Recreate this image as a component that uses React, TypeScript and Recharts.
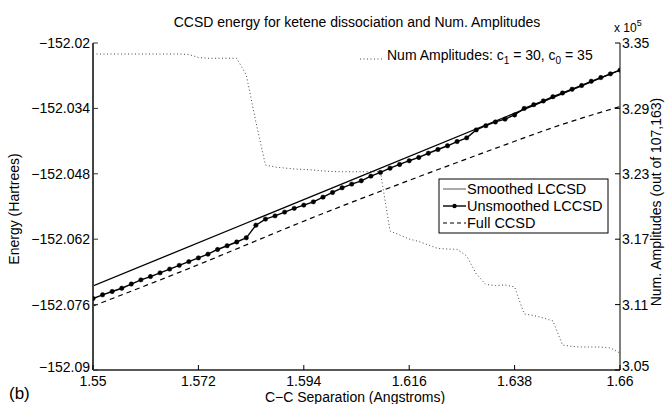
import { ComposedChart, Line, XAxis, YAxis } from 'recharts';

// C-C separation (Angstroms), one sample every 0.002
const separation = [
  1.55, 1.552, 1.554, 1.556, 1.558, 1.56, 1.562, 1.564, 1.566, 1.568,
  1.57, 1.572, 1.574, 1.576, 1.578, 1.58, 1.582, 1.584, 1.586, 1.588,
  1.59, 1.592, 1.594, 1.596, 1.598, 1.6, 1.602, 1.604, 1.606, 1.608,
  1.61, 1.612, 1.614, 1.616, 1.618, 1.62, 1.622, 1.624, 1.626, 1.628,
  1.63, 1.632, 1.634, 1.636, 1.638, 1.64, 1.642, 1.644, 1.646, 1.648,
  1.65, 1.652, 1.654, 1.656, 1.658, 1.66,
];

// Unsmoothed LCCSD energy (Hartrees)
const unsmoothed = [
  -152.0747, -152.0739, -152.0732, -152.0725, -152.0716, -152.0707, -152.07, -152.0692, -152.0684, -152.0676,
  -152.0668, -152.066, -152.0652, -152.0642, -152.0634, -152.0626, -152.0617, -152.059, -152.0577, -152.057,
  -152.0562, -152.0554, -152.0547, -152.054, -152.053, -152.052, -152.051, -152.0502, -152.0495, -152.0485,
  -152.0477, -152.0468, -152.046, -152.0452, -152.0445, -152.0436, -152.0428, -152.042, -152.0411, -152.0403,
  -152.0386, -152.0377, -152.0369, -152.0363, -152.0354, -152.034, -152.0332, -152.0324, -152.0315, -152.0307,
  -152.0299, -152.0291, -152.0282, -152.0274, -152.0266, -152.0258,
];

// number of amplitudes kept (right axis)
const amplitudes = [
  333990, 333990, 333990, 333990, 333990, 333990, 333990, 333990, 333990, 333990,
  333950, 333670, 333600, 333600, 333600, 333600, 332060, 327750, 323810, 323620,
  323530, 323440, 323400, 323350, 323260, 323210, 323190, 323190, 323190, 323190,
  323170, 317750, 317390, 317020, 316790, 316470, 316150, 316100, 316070, 315460,
  313810, 312840, 312750, 312800, 312620, 310140, 310000, 309770, 309500, 307290,
  307160, 307110, 307110, 307110, 307020, 306560,
];

const smoothedSep = [1.55, 1.66];
const smoothed = [-152.072, -152.0258];

const fullSep = [1.55, 1.568, 1.598, 1.616, 1.636, 1.646, 1.66];
const fullCcsd = [-152.0763, -152.0691, -152.0565, -152.0494, -152.0418, -152.0381, -152.0336];

const xTicks = [1.55, 1.572, 1.594, 1.616, 1.638, 1.66];
const energyTicks = [-152.09, -152.076, -152.062, -152.048, -152.034, -152.02];
const ampTicks = [305000, 311000, 317000, 323000, 329000, 335000];

const mainData = separation.map((x, i) => ({ x, e: unsmoothed[i], amp: amplitudes[i] }));
const smoothedData = smoothedSep.map((x, i) => ({ x, e: smoothed[i] }));
const fullData = fullSep.map((x, i) => ({ x, e: fullCcsd[i] }));

const FONT = '"Liberation Sans", Arial, Helvetica, sans-serif';

const fmtEnergy = (v: number) => '\u2212' + Math.abs(v).toString();
const fmtAmp = (v: number) => (v / 1e5).toFixed(2);

// the lowest labels sit a little higher, as in the matlab figure
const LeftTick = ({ x, y, payload }: any) => (
  <g>
    <line x1={x} y1={y} x2={x + 5} y2={y} stroke="#333" strokeWidth={1} />
    <text x={x - 3} y={payload.value === -152.09 ? y - 3 : y} dy="0.35em" textAnchor="end" fontSize={14} fontFamily={FONT} fill="#000">
      {fmtEnergy(payload.value)}
    </text>
  </g>
);

const RightTick = ({ x, y, payload }: any) => (
  <g>
    <line x1={x - 5} y1={y} x2={x} y2={y} stroke="#000" strokeWidth={1} />
    <text x={x + 2} y={payload.value === 305000 ? y - 3 : y + 1} dy="0.3em" textAnchor="start" fontSize={14} fontFamily={FONT} fill="#000">
      {fmtAmp(payload.value)}
    </text>
  </g>
);

const BottomTick = ({ x, y, payload }: any) => (
  <g>
    <line x1={x} y1={y - 5} x2={x} y2={y} stroke="#000" strokeWidth={1} />
    <text x={x} y={y + 16} textAnchor="middle" fontSize={14} fontFamily={FONT} fill="#000">
      {payload.value}
    </text>
  </g>
);

const TopTick = ({ x, y }: any) => (
  <line x1={x} y1={y} x2={x} y2={y + 3} stroke="#000" strokeWidth={1} />
);

export default function App() {
  return (
    <div style={{ position: 'absolute', left: 0, top: 0, width: 666, height: 404, background: '#fff' }}>
      <ComposedChart
        width={666}
        height={404}
        data={mainData}
        margin={{ top: 43, right: 0, bottom: 0, left: 0 }}
      >
        <XAxis
          xAxisId="bottom"
          dataKey="x"
          type="number"
          domain={[1.55, 1.66]}
          ticks={xTicks}
          height={34}
          tickSize={0}
          tickMargin={0}
          tickLine={false}
          axisLine={{ stroke: '#222', strokeWidth: 1.5 }}
          tick={BottomTick}
          allowDataOverflow
        />
        <XAxis
          xAxisId="top"
          orientation="top"
          dataKey="x"
          type="number"
          domain={[1.55, 1.66]}
          ticks={xTicks}
          height={0}
          tickSize={0}
          tickMargin={0}
          tickLine={false}
          axisLine={false}
          tick={TopTick}
          allowDataOverflow
        />
        <YAxis
          yAxisId="left"
          type="number"
          domain={[-152.09, -152.02]}
          ticks={energyTicks}
          width={93}
          tickSize={0}
          tickMargin={0}
          tickLine={false}
          axisLine={{ stroke: '#444', strokeWidth: 2 }}
          tick={LeftTick}
          allowDataOverflow
        />
        <YAxis
          yAxisId="right"
          orientation="right"
          type="number"
          domain={[305000, 335000]}
          ticks={ampTicks}
          width={46}
          tickSize={0}
          tickMargin={0}
          tickLine={false}
          axisLine={{ stroke: '#000', strokeWidth: 1 }}
          tick={RightTick}
          allowDataOverflow
        />
        <Line
          xAxisId="bottom"
          yAxisId="right"
          dataKey="amp"
          stroke="#444"
          strokeWidth={1}
          strokeDasharray="1 2.5"
          dot={false}
          isAnimationActive={false}
        />
        <Line
          xAxisId="bottom"
          yAxisId="left"
          data={fullData}
          dataKey="e"
          type="monotone"
          stroke="#000"
          strokeWidth={1.2}
          strokeDasharray="5 4"
          dot={false}
          isAnimationActive={false}
        />
        <Line
          xAxisId="bottom"
          yAxisId="left"
          data={smoothedData}
          dataKey="e"
          stroke="#000"
          strokeWidth={1.3}
          dot={false}
          isAnimationActive={false}
        />
        <Line
          xAxisId="bottom"
          yAxisId="left"
          dataKey="e"
          stroke="#000"
          strokeWidth={1.4}
          dot={{ r: 2.2, fill: '#000', stroke: '#000', strokeWidth: 0.5 }}
          isAnimationActive={false}
        />
      </ComposedChart>

      <svg
        width={666}
        height={404}
        style={{ position: 'absolute', left: 0, top: 0, pointerEvents: 'none' }}
        fontFamily={FONT}
      >
        <text x={357} y={27} textAnchor="middle" fontSize={14}>
          CCSD energy for ketene dissociation and Num. Amplitudes
        </text>
        <text transform="translate(19,209) rotate(-90)" textAnchor="middle" fontSize={14}>
          Energy (Hartrees)
        </text>
        <text transform="translate(661,202) rotate(-90)" textAnchor="middle" fontSize={14}>
          Num. Amplitudes (out of 107,163)
        </text>
        <text x={355} y={402} textAnchor="middle" fontSize={14}>
          C{'\u2212'}C Separation (Angstroms)
        </text>
        <text x={9} y={399} fontSize={17}>(b)</text>
        <text x={614} y={32} fontSize={12}>
          x 10<tspan fontSize={9} dy={-6}>5</tspan>
        </text>

        {/* amplitude legend */}
        <line x1={360} y1={59} x2={384} y2={59} stroke="#444" strokeWidth={1} strokeDasharray="1 2.5" />
        <text x={387} y={60} fontSize={14}>
          Num Amplitudes: c<tspan fontSize={10} dy={4}>1</tspan>
          <tspan dy={-4}> = 30, c</tspan>
          <tspan fontSize={10} dy={4}>0</tspan>
          <tspan dy={-4}> = 35</tspan>
        </text>

        {/* energy legend */}
        <rect x={439} y={179} width={169} height={54} fill="#fff" stroke="#000" strokeWidth={1} />
        <line x1={443} y1={189} x2={466} y2={189} stroke="#555" strokeWidth={1} />
        <text x={467} y={194} fontSize={14.5}>Smoothed LCCSD</text>
        <line x1={443} y1={206} x2={466} y2={206} stroke="#000" strokeWidth={1.4} />
        <circle cx={454.5} cy={206} r={2.2} fill="#000" />
        <text x={467} y={211} fontSize={14.5}>Unsmoothed LCCSD</text>
        <line x1={443} y1={223} x2={466} y2={223} stroke="#000" strokeWidth={1.2} strokeDasharray="4 3" />
        <text x={467} y={228} fontSize={14.5}>Full CCSD</text>
      </svg>
    </div>
  );
}
